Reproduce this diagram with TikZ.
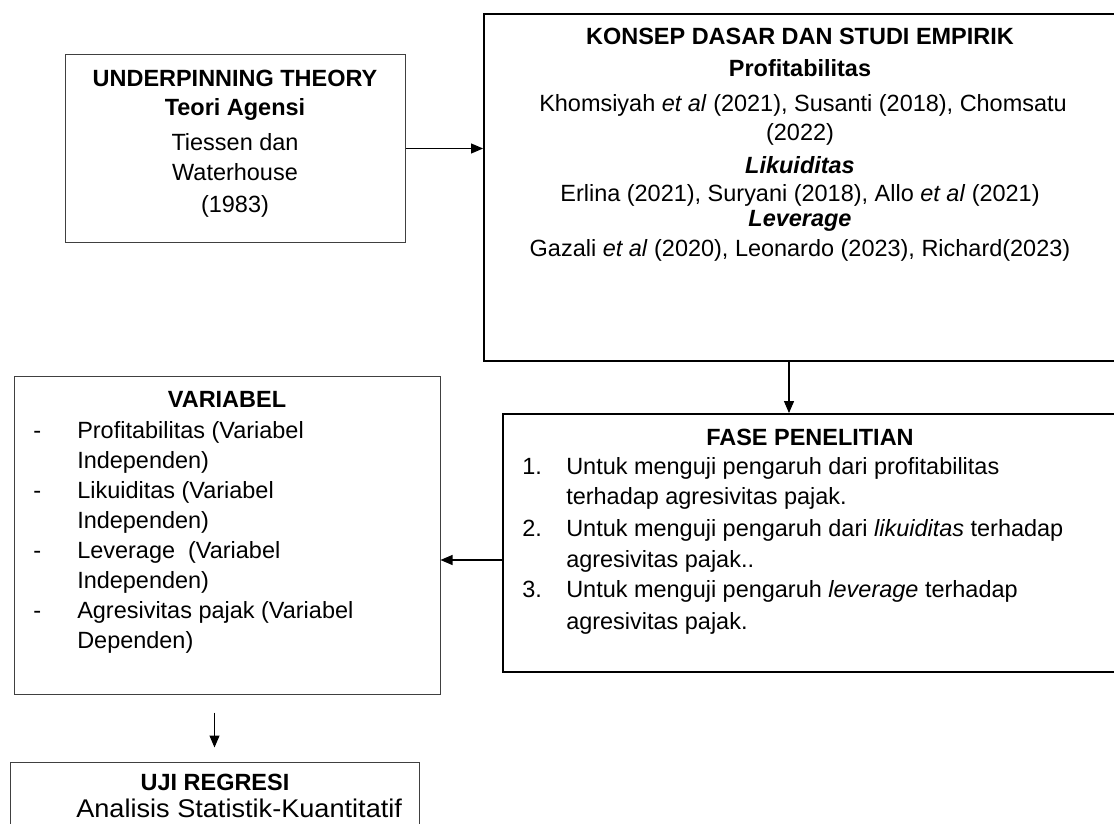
\documentclass[tikz,border=0pt]{standalone}
\usepackage{fontspec}
\setmainfont{Liberation Sans}
\usetikzlibrary{arrows.meta,fit}
\begin{document}
\begin{tikzpicture}[x=0.75pt,y=-0.75pt,
  thinbox/.style={draw=black!75,line width=0.75pt,inner sep=0pt},
  thickbox/.style={draw=black,line width=1.4pt,inner sep=0pt},
  txt/.style={inner sep=0pt,anchor=base,font=\fontsize{17.6}{21}\selectfont},
  btxt/.style={txt,font=\fontsize{17.6}{21}\selectfont\bfseries},
  ltxt/.style={txt,anchor=base west},
  arr/.style={draw=black,line width=0.8pt,-{Triangle[length=9pt,width=7.5pt]}}]
\useasboundingbox (0,0) rectangle (1114,824);
\clip (0,0) rectangle (1114,824);

% boxes
\node[thinbox, fit={(65,55)(405,242)}] (A) {};
\node[thickbox, fit={(484,14)(1122,361)}] (B) {};
\node[thickbox, fit={(503,414)(1122,672)}] (C) {};
\node[thinbox, fit={(14,376)(440,694)}] (D) {};
\node[thinbox, fit={(10,762)(419,840)}] (E) {};

% box A
\node[btxt] (a1) at (235,87) {UNDERPINNING THEORY};
\node[btxt] (a2) at (235,115) {Teori Agensi};
\node[txt] (a3) at (235,150) {Tiessen dan};
\node[txt] (a4) at (235,180) {Waterhouse};
\node[txt] (a5) at (235,212) {(1983)};

% box B
\node[btxt] (b1) at (800,45) {KONSEP DASAR DAN STUDI EMPIRIK};
\node[btxt] (b2) at (800,77) {Profitabilitas};
\node[txt] (b3) at (803,112) {Khomsiyah \textit{et al} (2021), Susanti (2018), Chomsatu};
\node[txt] (b4) at (800,141) {(2022)};
\node[btxt] (b5) at (800,173) {\itshape Likuiditas};
\node[txt] (b6) at (800,201) {Erlina (2021), Suryani (2018), Allo \textit{et al} (2021)};
\node[btxt] (b7) at (800,226) {\itshape Leverage};
\node[txt] (b8) at (800,256) {Gazali \textit{et al} (2020), Leonardo (2023), Richard(2023)};

% box C
\node[btxt] (c0) at (810,445) {FASE PENELITIAN};
\node[ltxt] (n1) at (522,474) {1.};
\node[ltxt] (c1) at (566,474) {Untuk menguji pengaruh dari profitabilitas};
\node[ltxt] (c2) at (566,504) {terhadap agresivitas pajak.};
\node[ltxt] (n2) at (522,536) {2.};
\node[ltxt] (c3) at (566,536) {Untuk menguji pengaruh dari \textit{likuiditas} terhadap};
\node[ltxt] (c4) at (566,567) {agresivitas pajak..};
\node[ltxt] (n3) at (522,597) {3.};
\node[ltxt] (c5) at (566,597) {Untuk menguji pengaruh \textit{leverage} terhadap};
\node[ltxt] (c6) at (566,629) {agresivitas pajak.};

% box D
\node[btxt] (d0) at (227,407) {VARIABEL};
\node[ltxt] (m1) at (33,438) {-};
\node[ltxt] (d1) at (77,438) {Profitabilitas (Variabel};
\node[ltxt] (d2) at (77,468) {Independen)};
\node[ltxt] (m2) at (33,498) {-};
\node[ltxt] (d3) at (77,498) {Likuiditas (Variabel};
\node[ltxt] (d4) at (77,528) {Independen)};
\node[ltxt] (m3) at (33,558) {-};
\node[ltxt] (d5) at (77,558) {Leverage\ \ (Variabel};
\node[ltxt] (d6) at (77,588) {Independen)};
\node[ltxt] (m4) at (33,618) {-};
\node[ltxt] (d7) at (77,618) {Agresivitas pajak (Variabel};
\node[ltxt] (d8) at (77,648) {Dependen)};

% box E
\node[btxt] (e1) at (215,790) {UJI REGRESI};
\node[ltxt,font=\fontsize{19.2}{23}\selectfont] (e2) at (76,817) {\scalebox{1.06}[1]{Analisis Statistik-Kuantitatif}};

% connectors
\coordinate (bc) at (789,0);
\coordinate (cd) at (0,560);
\draw[arr] (A.east) -- (A.east -| B.west);
\draw[arr] (B.south -| bc) -- (C.north -| bc);
\draw[arr] (C.west |- cd) -- (D.east |- cd);
\draw[arr, shorten <=13.5pt, shorten >=10.5pt] (E.north |- D.south) -- (E.north);
\end{tikzpicture}
\end{document}
